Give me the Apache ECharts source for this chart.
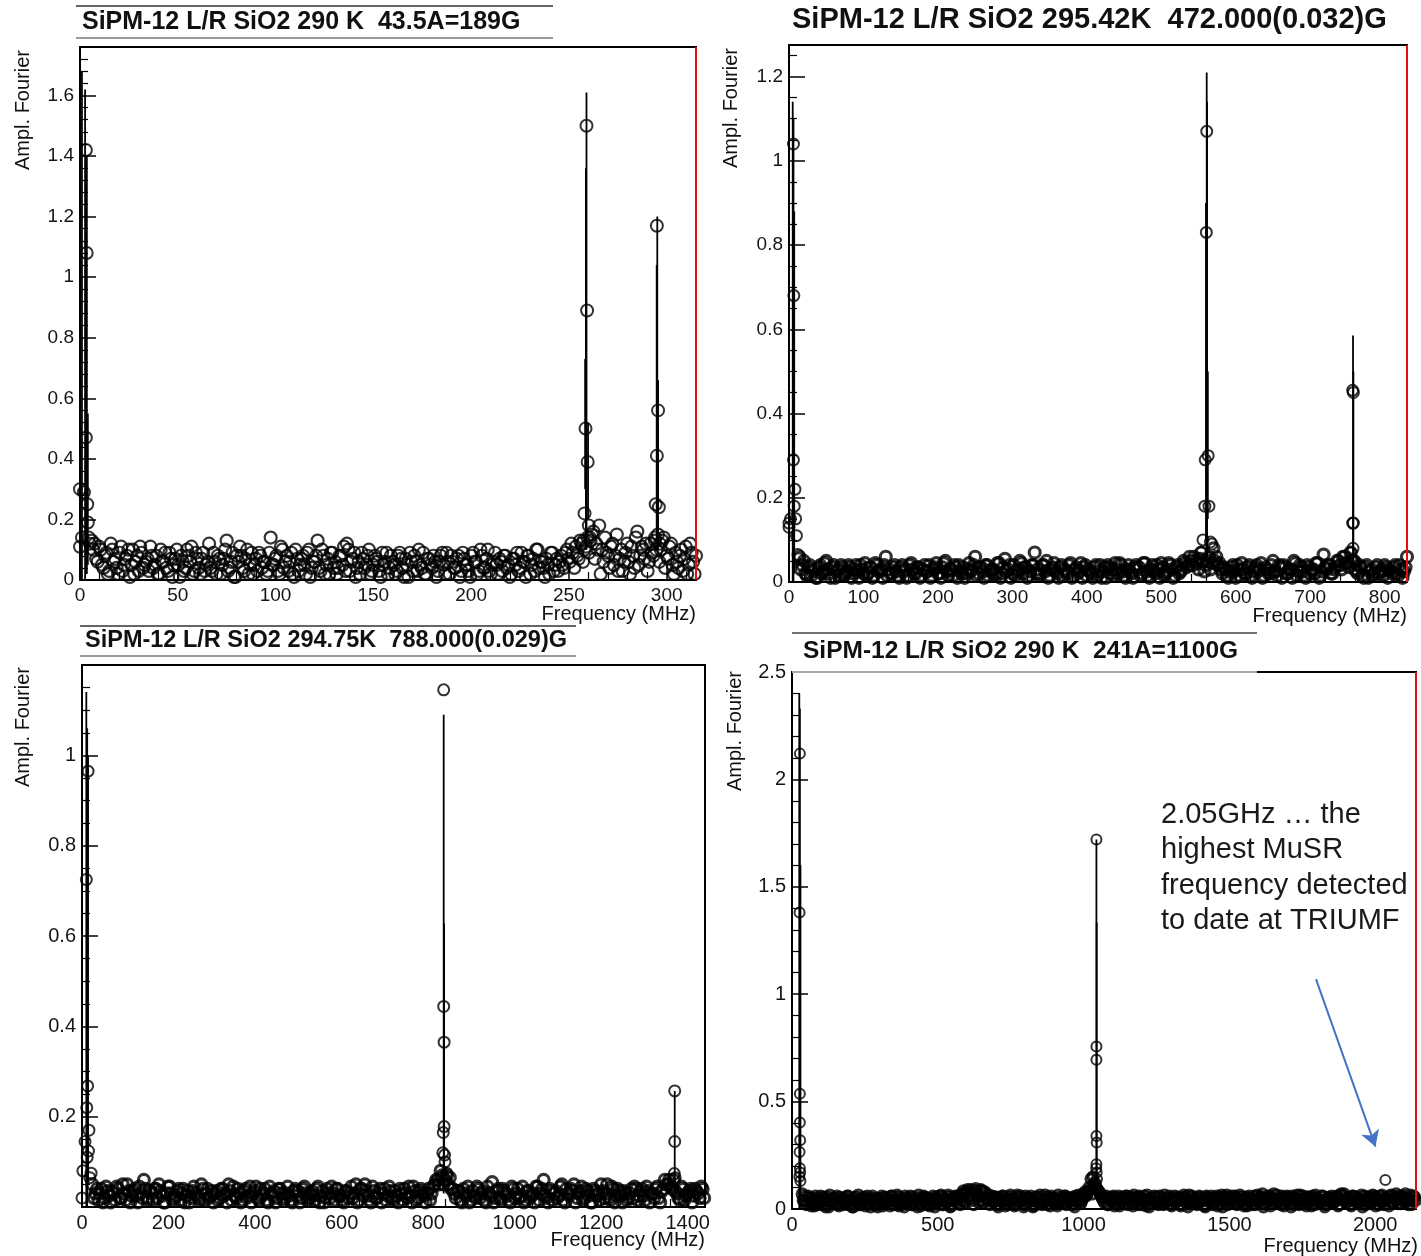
<!DOCTYPE html>
<html>
<head>
<meta charset="utf-8">
<script src="https://cdn.jsdelivr.net/npm/echarts@6/dist/echarts.min.js"></script>
<style>
  html, body { margin: 0; padding: 0; background: #fff; }
  #chart { width: 1421px; height: 1256px; }
</style>
</head>
<body>
<div id="chart"></div>
<script>
// ---- panel titles
var titles = [
  'SiPM-12 L/R SiO2 290 K  43.5A=189G',
  'SiPM-12 L/R SiO2 295.42K  472.000(0.032)G',
  'SiPM-12 L/R SiO2 294.75K  788.000(0.029)G',
  'SiPM-12 L/R SiO2 290 K  241A=1100G'
];
var note = '2.05GHz \u2026 the\nhighest MuSR\nfrequency detected\nto date at TRIUMF';

// ---- axis ranges (MHz / amplitude)
var xMax = [315, 830, 1440, 2140];
var xStep = [50, 100, 200, 500];
var yMax = [1.76, 1.275, 1.2, 2.5];
var yStep = [0.2, 0.2, 0.2, 0.5];

// ---- noise floor: first bin frequency, bin width, amplitudes (two overlaid spectra per panel)
var p1Start = 6, p1Bin = 1.5;
var p1Noise = [
  .13,.12,.06,.10,.04,.09,.03,.10,.07,.02,.11,.05,.08,.01,.10,.06,.03,.09,.05,.07,
  .11,.04,.08,.02,.06,.09,.03,.07,.05,.10,.01,.06,.04,.08,.11,.03,.07,.02,.09,.05,
  .12,.03,.06,.08,.02,.07,.13,.04,.09,.01,.06,.08,.03,.10,.05,.02,.07,.09,.04,.06,
  .03,.14,.05,.08,.02,.10,.06,.03,.09,.01,.07,.05,.08,.02,.10,.04,.06,.13,.03,.08,
  .05,.02,.09,.06,.04,.08,.11,.12,.03,.07,.01,.06,.09,.04,.08,.02,.05,.07,.03,.09,
  .06,.02,.08,.05,.03,.09,.04,.07,.01,.06,.08,.03,.05,.09,.02,.07,.04,.06,.03,.08,
  .05,.09,.02,.06,.04,.08,.03,.07,.05,.01,.09,.06,.03,.08,.04,.10,.02,.06,.05,.07,
  .03,.08,.05,.02,.07,.09,.04,.06,.01,.08,.05,.03,.10,.06,.04,.07,.02,.09,.05,.03,
  .08,.04,.10,.06,.09,.11,.07,.12,.10,.14,.13,.16,.12,.18,.10,.14,.08,.11,.05,.15,
  .07,.03,.09,.06,.11,.04,.16,.08,.10,.12,.06,.09,.13,.15,.10,.14,.08,.11,.05,.09,
  .04,.10,.07,.02,.12,.06,.08
];
var p1StartB = 6.75;
var p1NoiseB = [
  .10,.07,.11,.05,.08,.02,.12,.06,.04,.09,.03,.07,.10,.05,.02,.08,.11,.04,.06,.03,
  .08,.05,.02,.10,.06,.04,.09,.01,.07,.05,.08,.03,.10,.06,.02,.09,.04,.07,.03,.06,
  .04,.09,.02,.07,.05,.10,.03,.06,.01,.08,.11,.04,.07,.02,.09,.05,.03,.08,.06,.02,
  .09,.05,.07,.03,.11,.04,.08,.06,.02,.10,.03,.07,.05,.09,.01,.06,.08,.04,.10,.02,
  .07,.09,.04,.02,.08,.05,.03,.10,.06,.09,.04,.02,.07,.05,.10,.03,.08,.06,.01,.05,
  .09,.04,.06,.02,.08,.07,.01,.05,.09,.03,.06,.10,.04,.02,.07,.05,.08,.01,.06,.09,
  .02,.06,.08,.04,.07,.01,.09,.05,.03,.08,.06,.02,.10,.04,.07,.03,.05,.09,.02,.06,
  .08,.04,.01,.07,.05,.03,.09,.06,.08,.02,.07,.10,.04,.06,.01,.05,.09,.03,.07,.06,
  .05,.09,.07,.12,.04,.08,.13,.06,.11,.09,.15,.07,.10,.02,.06,.09,.04,.12,.08,.03,
  .10,.06,.12,.02,.08,.14,.05,.11,.07,.03,.12,.08,.10,.06,.13,.04,.07,.12,.02,.06,
  .08,.03,.11,.05,.09,.02,.10
];
var p2Start = 14, p2Bin = 4;
var p2Noise = [
  .06,.04,.02,.035,.015,.03,.01,.04,.025,.05,.02,.035,.01,.03,.04,.015,.025,.035,.02,.04,
  .01,.03,.045,.02,.035,.015,.04,.025,.01,.06,.03,.02,.04,.015,.035,.025,.01,.04,.03,.02,
  .035,.015,.04,.025,.01,.03,.045,.02,.035,.05,.015,.03,.04,.01,.025,.035,.02,.045,.03,.06,
  .02,.035,.01,.04,.025,.03,.015,.045,.02,.055,.03,.01,.04,.025,.05,.02,.035,.015,.04,.07,
  .03,.02,.04,.05,.015,.035,.025,.01,.04,.03,.02,.045,.015,.035,.025,.01,.04,.03,.02,.035,
  .015,.04,.025,.01,.035,.03,.045,.02,.04,.015,.03,.025,.01,.04,.035,.02,.045,.015,.03,.025,
  .04,.01,.035,.02,.045,.03,.015,.04,.025,.05,.035,.06,.04,.05,.03,.07,.025,.05,.03,.08,
  .06,.045,.02,.03,.01,.035,.025,.04,.015,.03,.02,.04,.01,.035,.025,.045,.015,.03,.02,.05,
  .025,.04,.01,.035,.02,.03,.05,.015,.04,.025,.01,.035,.03,.02,.045,.015,.065,.03,.04,.02,
  .035,.05,.03,.06,.045,.07,.05,.025,.04,.015,.035,.01,.03,.02,.04,.025,.015,.035,.03,.02,
  .04,.015,.03,.025,.06
];
var p2StartB = 16;
var p2NoiseB = [
  .03,.05,.015,.04,.025,.01,.035,.02,.045,.03,.01,.04,.025,.015,.035,.02,.04,.01,.03,.025,
  .04,.02,.015,.035,.01,.045,.025,.03,.04,.015,.02,.035,.025,.01,.04,.03,.015,.045,.02,.035,
  .01,.03,.025,.04,.015,.035,.02,.01,.045,.025,.03,.015,.035,.04,.02,.01,.03,.025,.04,.015,
  .035,.025,.04,.015,.03,.02,.045,.01,.035,.025,.04,.02,.015,.03,.045,.035,.01,.025,.04,.02,
  .015,.04,.025,.01,.03,.045,.02,.035,.015,.025,.04,.01,.03,.02,.045,.035,.015,.025,.01,.04,
  .025,.01,.035,.04,.02,.015,.03,.045,.025,.01,.04,.02,.035,.03,.015,.045,.025,.01,.04,.02,
  .03,.045,.015,.025,.04,.01,.035,.02,.03,.045,.04,.05,.06,.045,.055,.05,.04,.06,.045,.05,
  .04,.03,.035,.015,.025,.04,.01,.03,.045,.02,.035,.015,.025,.04,.03,.01,.035,.02,.04,.025,
  .015,.035,.04,.02,.03,.01,.045,.025,.035,.015,.04,.02,.03,.045,.01,.025,.035,.04,.02,.03,
  .05,.04,.06,.045,.035,.05,.03,.02,.035,.01,.04,.025,.015,.035,.02,.03,.04,.01,.025,.035,
  .02,.04,.01,.035,.03
];
var p3Start = 24, p3Bin = 7;
var p3Noise = [
  .05,.03,.015,.04,.02,.035,.01,.03,.045,.02,.05,.015,.035,.025,.04,.01,.03,.06,.02,.035,
  .015,.04,.05,.025,.01,.045,.03,.02,.035,.015,.04,.025,.01,.035,.03,.02,.05,.015,.04,.025,
  .01,.035,.02,.04,.03,.05,.015,.025,.04,.01,.035,.02,.045,.03,.045,.015,.025,.04,.01,.03,
  .035,.02,.04,.015,.03,.025,.01,.04,.035,.02,.045,.015,.03,.025,.04,.01,.035,.02,.03,.045,
  .015,.04,.025,.01,.035,.03,.02,.05,.015,.04,.05,.025,.01,.035,.02,.04,.03,.015,.045,.02,
  .035,.01,.03,.04,.02,.025,.045,.015,.035,.03,.01,.04,.03,.05,.06,.08,.05,.07,.065,.04,
  .02,.035,.01,.03,.045,.015,.025,.045,.02,.035,.01,.03,.055,.02,.04,.015,.035,.025,.01,.04,
  .03,.02,.045,.015,.035,.025,.01,.045,.03,.06,.02,.04,.015,.035,.025,.05,.01,.03,.04,.05,
  .02,.035,.015,.04,.025,.01,.035,.03,.05,.02,.05,.015,.04,.025,.035,.01,.03,.02,.04,.045,
  .015,.035,.025,.045,.01,.03,.04,.02,.035,.06,.05,.045,.06,.03,.015,.04,.025,.035,.01,.04,
  .03,.045,.02
];
var p3StartB = 27.5;
var p3NoiseB = [
  .02,.04,.03,.01,.045,.025,.035,.015,.04,.02,.03,.05,.01,.035,.025,.045,.02,.04,.015,.03,
  .04,.02,.035,.01,.03,.045,.015,.025,.04,.03,.01,.035,.02,.045,.025,.015,.04,.03,.02,.035,
  .03,.015,.04,.025,.01,.035,.045,.02,.03,.015,.04,.025,.01,.035,.02,.04,.03,.015,.045,.025,
  .01,.04,.03,.02,.045,.015,.035,.025,.01,.04,.03,.02,.035,.015,.045,.025,.01,.04,.02,.03,
  .04,.025,.015,.035,.02,.045,.03,.01,.04,.025,.035,.015,.045,.02,.03,.01,.04,.025,.035,.015,
  .025,.04,.015,.03,.045,.01,.035,.02,.04,.025,.03,.015,.045,.06,.05,.07,.06,.05,.04,.03,
  .035,.015,.04,.025,.01,.035,.02,.04,.03,.015,.045,.025,.01,.035,.02,.04,.03,.015,.045,.02,
  .04,.025,.01,.035,.02,.03,.045,.015,.04,.025,.01,.035,.03,.02,.045,.015,.04,.025,.035,.01,
  .03,.045,.02,.035,.01,.04,.025,.015,.035,.03,.02,.045,.01,.04,.025,.035,.015,.03,.02,.04,
  .025,.04,.015,.035,.03,.02,.045,.01,.04,.05,.06,.04,.035,.02,.045,.015,.03,.04,.025,.035,
  .02,.04,.03
];
var p4Start = 35, p4Bin = 7;
var p4Noise = [
  .07,.04,.02,.06,.03,.05,.015,.045,.03,.06,.02,.04,.055,.01,.035,.05,.025,.06,.015,.04,
  .05,.03,.06,.02,.045,.01,.055,.035,.02,.05,.04,.015,.06,.03,.045,.02,.05,.01,.04,.06,
  .025,.05,.035,.015,.06,.04,.02,.055,.03,.045,.01,.05,.035,.06,.02,.04,.03,.065,.015,.045,
  .055,.02,.04,.03,.06,.01,.05,.035,.065,.02,.045,.03,.055,.015,.04,.06,.025,.05,.07,.085,
  .03,.09,.05,.075,.02,.095,.06,.04,.085,.03,.07,.05,.02,.06,.035,.055,.01,.045,.06,.03,
  .05,.02,.065,.04,.015,.055,.03,.06,.045,.02,.05,.035,.06,.01,.04,.055,.025,.05,.03,.065,
  .02,.045,.06,.03,.05,.015,.04,.055,.025,.06,.035,.05,.02,.045,.06,.03,.055,.04,.07,.06,
  .08,.09,.07,.12,.10,.085,.07,.05,.03,.06,.02,.045,.055,.015,.04,.06,.03,.05,.025,.06,
  .04,.055,.015,.05,.035,.06,.02,.045,.03,.065,.01,.05,.04,.055,.025,.06,.035,.02,.05,.04,
  .06,.015,.045,.03,.055,.02,.05,.065,.035,.01,.04,.06,.025,.05,.03,.055,.045,.015,.06,.035,
  .05,.02,.04,.06,.03,.055,.01,.045,.065,.025,.05,.035,.06,.02,.04,.055,.03,.05,.015,.06,
  .035,.045,.02,.065,.04,.055,.01,.05,.03,.06,.045,.07,.025,.05,.035,.06,.015,.04,.055,.03,
  .06,.02,.05,.04,.065,.03,.045,.015,.055,.035,.06,.02,.05,.04,.03,.06,.01,.045,.055,.025,
  .05,.035,.06,.02,.07,.04,.055,.03,.045,.015,.06,.035,.05,.025,.065,.04,.02,.055,.03,.05,
  .06,.015,.045,.035,.065,.02,.05,.04,.06,.03,.055,.07,.025,.045,.06,.035,.05,.02,.065,.04,
  .055
];
var p4StartB = 38.5;
var p4NoiseB = [
  .04,.06,.025,.05,.015,.035,.06,.02,.045,.03,.055,.01,.04,.065,.025,.05,.035,.02,.055,.04,
  .02,.045,.06,.035,.01,.05,.03,.065,.02,.04,.055,.025,.045,.01,.06,.035,.02,.05,.04,.015,
  .055,.03,.045,.06,.02,.04,.065,.015,.05,.035,.06,.025,.045,.02,.055,.04,.01,.05,.03,.06,
  .035,.05,.015,.045,.025,.055,.04,.06,.02,.05,.03,.065,.01,.045,.055,.035,.06,.02,.04,.07,
  .08,.06,.09,.04,.085,.07,.03,.09,.055,.08,.045,.065,.04,.03,.055,.02,.05,.035,.06,.015,
  .04,.055,.03,.05,.02,.065,.035,.045,.01,.06,.025,.05,.04,.015,.055,.03,.065,.02,.045,.035,
  .055,.015,.04,.05,.025,.065,.03,.045,.06,.02,.05,.035,.055,.01,.04,.065,.025,.05,.08,.07,
  .10,.14,.15,.11,.09,.08,.06,.04,.055,.02,.05,.035,.06,.025,.045,.015,.055,.04,.06,.02,
  .05,.03,.065,.04,.02,.055,.035,.06,.015,.045,.05,.025,.06,.035,.02,.055,.04,.065,.03,.05,
  .02,.045,.06,.035,.05,.015,.04,.055,.03,.065,.025,.05,.04,.02,.06,.035,.045,.01,.055,.04,
  .06,.03,.05,.015,.045,.065,.035,.055,.02,.04,.06,.03,.05,.025,.065,.04,.015,.055,.035,.05,
  .02,.06,.04,.03,.055,.07,.025,.045,.06,.015,.05,.035,.065,.04,.02,.055,.03,.06,.045,.01,
  .05,.035,.065,.02,.045,.06,.03,.055,.04,.015,.05,.065,.025,.045,.06,.035,.02,.05,.04,.06,
  .03,.055,.015,.045,.065,.07,.035,.05,.02,.06,.04,.055,.03,.045,.01,.06,.035,.05,.025,.065,
  .04,.055,.02,.06,.035,.05,.045,.015,.065,.03,.05,.04,.06,.025,.055,.07,.035,.045,.02,.06,
  .04
];

// ---- precession lines: [MHz, amplitude]
var p1Peaks = [
  [0, 0.30], [0, 0.11], [1, 0.14], [3, 1.42], [3.4, 1.08], [3, 0.47], [3.7, 0.25],
  [4, 0.19], [4.5, 0.14], [2, 0.29], [5, 0.12],
  [259, 1.50], [259.3, 0.89], [258.5, 0.50], [259.6, 0.39], [258, 0.22], [260.2, 0.18],
  [260.8, 0.14], [257.5, 0.13],
  [295, 1.17], [295.6, 0.56], [295, 0.41], [294.4, 0.25], [296, 0.24], [294, 0.14], [296.5, 0.12]
];
var p2Peaks = [
  [0, 0.14], [0, 0.13], [2, 0.15], [6, 1.04], [6.5, 0.68], [6, 0.29], [8, 0.22], [7, 0.18],
  [9, 0.15], [10, 0.11], [12, 0.065], [13, 0.055],
  [561, 1.07], [560.5, 0.83], [563, 0.30], [559, 0.29], [558.5, 0.18], [564, 0.18],
  [556, 0.10], [566, 0.095], [568, 0.09], [553, 0.07],
  [757, 0.455], [758, 0.45], [757, 0.14], [758, 0.14], [757.5, 0.08], [755, 0.07], [760, 0.05]
];
var p3Peaks = [
  [0, 0.02], [2, 0.08], [7, 0.145], [10, 0.725], [14, 0.965], [13, 0.268], [11, 0.22],
  [16, 0.17], [15, 0.124], [12, 0.11], [21, 0.075], [18, 0.065],
  [836, 1.145], [836, 0.444], [837, 0.365], [837, 0.178], [835, 0.165], [834, 0.12],
  [838, 0.115], [839, 0.10], [843, 0.075], [830, 0.065],
  [1370, 0.257], [1370, 0.145], [1369, 0.074], [1371, 0.065]
];
var p4Peaks = [
  [27, 2.12], [26, 1.38], [27, 0.536], [27, 0.403], [28, 0.32], [26, 0.265], [27, 0.19],
  [28, 0.17], [25, 0.15], [29, 0.13],
  [1044, 1.72], [1044, 0.757], [1044, 0.695], [1044, 0.34], [1045, 0.31], [1044, 0.208],
  [1043, 0.19], [1045, 0.17], [1046, 0.14], [1042, 0.12],
  [2035, 0.135]
];

// ---- error bars: [MHz, low, high]
var p1Err = [
  [1, 0, 1.68], [2.6, 0, 1.62], [3.5, 0.02, 1.40], [4, 0.05, 0.55],
  [259, 0.10, 1.61], [258.7, 0.10, 1.36], [258.3, 0.30, 0.73], [259.8, 0.20, 0.52],
  [295.2, 0.10, 1.20], [294.9, 0.10, 1.04], [295.6, 0.10, 0.66]
];
var p2Err = [
  [5, 0, 1.14], [6, 0, 1.10], [7, 0.02, 0.88],
  [561, 0.05, 1.21], [561.5, 0.05, 1.14], [560, 0.10, 0.90], [562.5, 0.15, 0.50],
  [757.5, 0.03, 0.585], [758, 0.03, 0.50]
];
var p3Err = [
  [10, 0, 1.14], [12, 0, 1.06], [14, 0.05, 1.00],
  [836, 0.03, 1.09], [837, 0.05, 0.628], [1370, 0.03, 0.257]
];
var p4Err = [
  [25, 0, 2.40], [27, 0, 2.33], [29, 0.05, 1.60],
  [1044, 0.05, 1.72], [1045, 0.05, 1.334]
];

function bins(start, step, vals) {
  return vals.map(function (v, i) { return [start + i * step, v]; });
}

var noise = [
  bins(p1Start, p1Bin, p1Noise).concat(bins(p1StartB, p1Bin, p1NoiseB)),
  bins(p2Start, p2Bin, p2Noise).concat(bins(p2StartB, p2Bin, p2NoiseB)),
  bins(p3Start, p3Bin, p3Noise).concat(bins(p3StartB, p3Bin, p3NoiseB)),
  bins(p4Start, p4Bin, p4Noise).concat(bins(p4StartB, p4Bin, p4NoiseB))
];
var peaks = [p1Peaks, p2Peaks, p3Peaks, p4Peaks];
var errs = [p1Err, p2Err, p3Err, p4Err];

var FONT = '"Liberation Sans", Arial, sans-serif';
var grids = [
  { left: 80, top: 47, width: 616, height: 533 },
  { left: 789, top: 45, width: 618, height: 537 },
  { left: 82, top: 665, width: 623, height: 542 },
  { left: 792, top: 672, width: 624, height: 537 }
];
var labelSize = [19, 19, 20, 20];
var minorSplit = [5, 4, 4, 5];
var markerSize = [12, 11, 11, 10];
var noiseStroke = [2.2, 3.2, 3.2, 3.2];
var redEdge = [true, true, false, true];
var showMaxY = [false, false, false, true];
var showMinY = [true, true, false, true];

var chart = echarts.init(document.getElementById('chart'));

var option = {
  backgroundColor: '#fff',
  animation: false,
  grid: grids.map(function (g) {
    return Object.assign({
      show: true,
      borderColor: '#000',
      borderWidth: 2,
      backgroundColor: 'transparent',
      outerBoundsMode: 'none'
    }, g);
  }),
  xAxis: grids.map(function (g, k) {
    return {
      type: 'value',
      gridIndex: k,
      min: 0,
      max: xMax[k],
      interval: xStep[k],
      axisLine: { show: true, lineStyle: { color: '#000', width: 2 } },
      axisTick: { show: true, inside: true, length: 16, lineStyle: { color: '#000', width: 1.5 } },
      minorTick: { show: true, splitNumber: 5, length: 8, lineStyle: { color: '#000', width: 1.2 } },
      splitLine: { show: false },
      axisLabel: {
        color: '#151515', fontSize: labelSize[k], fontFamily: FONT, margin: 6,
        showMaxLabel: false,
        formatter: function (v) { return String(v); }
      }
    };
  }),
  yAxis: grids.map(function (g, k) {
    return {
      type: 'value',
      gridIndex: k,
      min: 0,
      max: yMax[k],
      interval: yStep[k],
      axisLine: { show: true, lineStyle: { color: '#000', width: 2 } },
      axisTick: { show: true, inside: true, length: 16, lineStyle: { color: '#000', width: 1.5 } },
      minorTick: { show: true, splitNumber: minorSplit[k], length: 8, lineStyle: { color: '#000', width: 1.2 } },
      splitLine: { show: false },
      axisLabel: {
        color: '#151515', fontSize: labelSize[k], fontFamily: FONT, margin: 6,
        showMaxLabel: showMaxY[k],
        showMinLabel: showMinY[k],
        formatter: function (v) { return String(v); }
      }
    };
  }),
  series: []
};

grids.forEach(function (g, k) {
  option.series.push({
    type: 'custom',
    xAxisIndex: k,
    yAxisIndex: k,
    silent: true,
    clip: true,
    data: errs[k],
    encode: { x: 0, y: [1, 2] },
    renderItem: function (params, api) {
      var a = api.coord([api.value(0), api.value(1)]);
      var b = api.coord([api.value(0), api.value(2)]);
      return {
        type: 'line',
        shape: { x1: a[0], y1: a[1], x2: b[0], y2: b[1] },
        style: { stroke: '#000', lineWidth: 1.8 }
      };
    }
  });
  option.series.push({
    type: 'scatter',
    xAxisIndex: k,
    yAxisIndex: k,
    silent: true,
    symbol: 'circle',
    symbolSize: markerSize[k],
    itemStyle: { color: 'rgba(0,0,0,0)', borderColor: '#000', borderWidth: noiseStroke[k] },
    data: noise[k],
    markLine: redEdge[k] ? {
      silent: true,
      symbol: 'none',
      label: { show: false },
      emphasis: { disabled: true },
      lineStyle: { color: '#e01010', width: 2, type: 'solid' },
      data: [{ xAxis: xMax[k] }]
    } : undefined
  });
  option.series.push({
    type: 'scatter',
    xAxisIndex: k,
    yAxisIndex: k,
    silent: true,
    symbol: 'circle',
    symbolSize: markerSize[k],
    itemStyle: { color: 'rgba(0,0,0,0)', borderColor: '#000', borderWidth: 2 },
    data: peaks[k],
    markLine: k === 3 ? {
      silent: true,
      symbol: ['none', 'arrow'],
      symbolSize: [14, 16],
      label: { show: false },
      emphasis: { disabled: true },
      lineStyle: { color: '#4472C4', width: 2, type: 'solid' },
      data: [[{ coord: [1797, 1.07] }, { coord: [2001, 0.29] }]]
    } : undefined
  });
});

// ---- texts and title rules
function txt(x, y, s, font, extra) {
  return {
    type: 'text', x: x, y: y, z: 50,
    style: Object.assign({ text: s, font: font, fill: '#111', align: 'left', verticalAlign: 'middle' }, extra || {})
  };
}
function rule(x1, x2, y, color, w) {
  return { type: 'line', z: 60, shape: { x1: x1, y1: y, x2: x2, y2: y }, style: { stroke: color, lineWidth: w } };
}
var yTitlePos = [[23, 50], [731, 48], [23, 667], [735, 671]];
var xTitlePos = [[696, 614], [1407, 616], [705, 1240], [1418, 1246]];

var graphics = [
  txt(82, 22, titles[0], 'bold 25px ' + FONT),
  txt(792, 20, titles[1], 'bold 29px ' + FONT),
  txt(85, 641, titles[2], 'bold 23.5px ' + FONT),
  txt(803, 651, titles[3], 'bold 24.5px ' + FONT),
  rule(76, 553, 6, '#333', 1.5),
  rule(76, 553, 38, '#9a9a9a', 2),
  rule(80, 576, 626, '#333', 1.5),
  rule(80, 576, 656, '#9a9a9a', 2),
  rule(792, 1257, 633, '#444', 1.5),
  rule(792, 1257, 672, '#aaa', 2),
  {
    type: 'text', x: 1161, y: 797, z: 50,
    style: { text: note, font: '29px ' + FONT, fill: '#1a1a1a', lineHeight: 35.5, align: 'left', verticalAlign: 'top' }
  }
];
yTitlePos.forEach(function (p) {
  graphics.push({
    type: 'text', x: p[0], y: p[1], rotation: Math.PI / 2, z: 50,
    style: { text: 'Ampl. Fourier', font: '20px ' + FONT, fill: '#111', align: 'right', verticalAlign: 'middle' }
  });
});
xTitlePos.forEach(function (p) {
  graphics.push(txt(p[0], p[1], 'Frequency (MHz)', '20px ' + FONT, { align: 'right' }));
});
option.graphic = { elements: graphics };

chart.setOption(option);
</script>
</body>
</html>
